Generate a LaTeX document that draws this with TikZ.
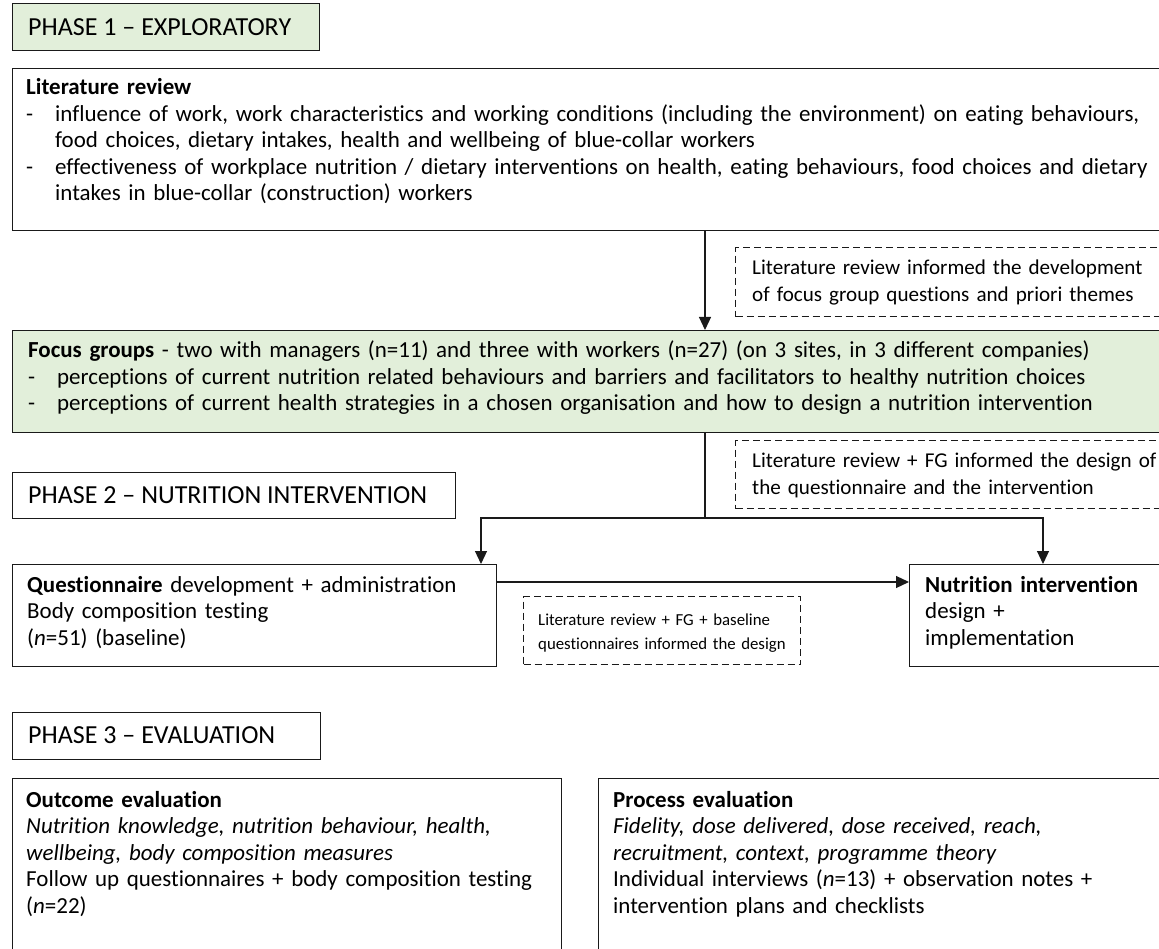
\documentclass[tikz,border=0pt]{standalone}
\usepackage{fontspec}
\setmainfont{Carlito}[Ligatures={TeX,CommonOff}]
\usetikzlibrary{arrows.meta}
\definecolor{phasegreen}{HTML}{E2EFDA}
\definecolor{ink}{HTML}{1A1A1A}
\newcommand{\bodyfont}{\fontsize{22.95}{26.5}\selectfont}
\newcommand{\phasefont}{\fontsize{26}{30}\selectfont}
\newcommand{\notefont}{\fontsize{21.1}{27}\selectfont}
\newcommand{\smallnotefont}{\fontsize{16.8}{24}\selectfont}
\newcommand{\itemdash}{\makebox[29pt][l]{-}}
\newcommand{\itemgap}{\hspace*{29pt}}
% a bullet line spread to the full width of the review box
\newcommand{\fullline}[1]{\makebox[1103pt][s]{#1}}
\begin{document}
\begin{tikzpicture}[x=1pt,y=-1pt,
  frame/.style={draw=ink, line width=1.4pt, inner sep=0pt, anchor=north west},
  greenframe/.style={frame, fill=phasegreen},
  noteframe/.style={draw=ink, line width=1.2pt, dash pattern=on 7pt off 4pt, inner sep=0pt, anchor=north west},
  body/.style={anchor=base west, inner sep=0pt, align=left, text width=1250pt, font=\bodyfont},
  note/.style={anchor=base west, inner sep=0pt, align=left, text width=500pt, font=\notefont},
  smallnote/.style={anchor=base west, inner sep=0pt, align=left, text width=400pt, font=\smallnotefont},
  phase/.style={anchor=west, inner sep=0pt, font=\phasefont},
  link/.style={draw=ink, line width=1.2pt},
  arrowlink/.style={link, -{Triangle[length=13pt,width=12pt]}},
]
\useasboundingbox (0,0) rectangle (1159,949);
\clip (0,0) rectangle (1159,949);

% ---------- Phase 1 ----------
\node[greenframe, minimum width=307, minimum height=47] (ph1) at (12,3) {};
\node[phase] (ph1t) at (28,27) {PHASE 1 – EXPLORATORY};

\node[frame, minimum width=1170, minimum height=162] (lit) at (12,68) {};
\node[body] (litt) at (26,95) {\textbf{Literature review}\\
\itemdash\fullline{influence of work, work characteristics and working conditions (including the environment) on eating behaviours,}\\
\itemgap food choices, dietary intakes, health and wellbeing of blue-collar workers\\
\itemdash\fullline{effectiveness of workplace nutrition / dietary interventions on health, eating behaviours, food choices and dietary}\\
\itemgap intakes in blue-collar (construction) workers};

\node[noteframe, minimum width=440, minimum height=69] (n1) at (735,247) {};
\node[note] (n1t) at (752,275) {Literature review informed the development\\of focus group questions and priori themes};

\node[greenframe, minimum width=1170, minimum height=102] (focus) at (12,330) {};
\node[body] (focust) at (28,358) {\textbf{Focus groups} - two with managers (n=11) and three with workers (n=27) (on 3 sites, in 3 different companies)\\
\itemdash perceptions of current nutrition related behaviours and barriers and facilitators to healthy nutrition choices\\
\itemdash perceptions of current health strategies in a chosen organisation and how to design a nutrition intervention};

% ---------- Phase 2 ----------
\node[noteframe, minimum width=440, minimum height=68] (n2) at (735,440) {};
\node[note] (n2t) at (752,467) {Literature review + FG informed the design of\\the questionnaire and the intervention};

\node[frame, minimum width=443, minimum height=46] (ph2) at (12,472) {};
\node[phase] (ph2t) at (28,495) {PHASE 2 – NUTRITION INTERVENTION};

\node[frame, minimum width=484, minimum height=102] (quest) at (12,564) {};
\node[body] (questt) at (27,592) {\textbf{Questionnaire} development + administration\\Body composition testing\\(\textit{n}=51) (baseline)};

\node[noteframe, minimum width=277, minimum height=68] (n3) at (523,596) {};
\node[smallnote] (n3t) at (538,625) {Literature review + FG + baseline\\questionnaires informed the design};

\node[frame, minimum width=270, minimum height=102] (nut) at (909,564) {};
\node[body] (nutt) at (925,592) {\textbf{Nutrition intervention}\\design +\\implementation};

% ---------- Phase 3 ----------
\node[frame, minimum width=308, minimum height=47] (ph3) at (12,712) {};
\node[phase] (ph3t) at (28,735.5) {PHASE 3 – EVALUATION};

\node[frame, minimum width=549, minimum height=200] (out) at (12,778) {};
\node[body] (outt) at (26,807) {\textbf{Outcome evaluation}\\
\textit{Nutrition knowledge, nutrition behaviour, health,}\\
\textit{wellbeing, body composition measures}\\
Follow up questionnaires + body composition testing\\
(\textit{n}=22)};

\node[frame, minimum width=580, minimum height=200] (proc) at (598,778) {};
\node[body] (proct) at (613,807) {\textbf{Process evaluation}\\
\textit{Fidelity, dose delivered, dose received, reach,}\\
\textit{recruitment, context, programme theory}\\
Individual interviews (\textit{n}=13) + observation notes +\\
intervention plans and checklists};

% ---------- connectors ----------
\coordinate (vx) at (705,0);
\coordinate (qx) at (481,0);
\coordinate (nx) at (1043,0);
\coordinate (split) at (705,518);
\coordinate (hy) at (0,582);

\draw[arrowlink] (lit.south -| vx) -- (focus.north -| vx);
\draw[link] (focus.south -| vx) -- (split);
\draw[arrowlink] (split) -| (quest.north -| qx);
\draw[arrowlink] (split) -| (nut.north -| nx);
\draw[arrowlink] (quest.east |- hy) -- (nut.west |- hy);
\end{tikzpicture}
\end{document}
